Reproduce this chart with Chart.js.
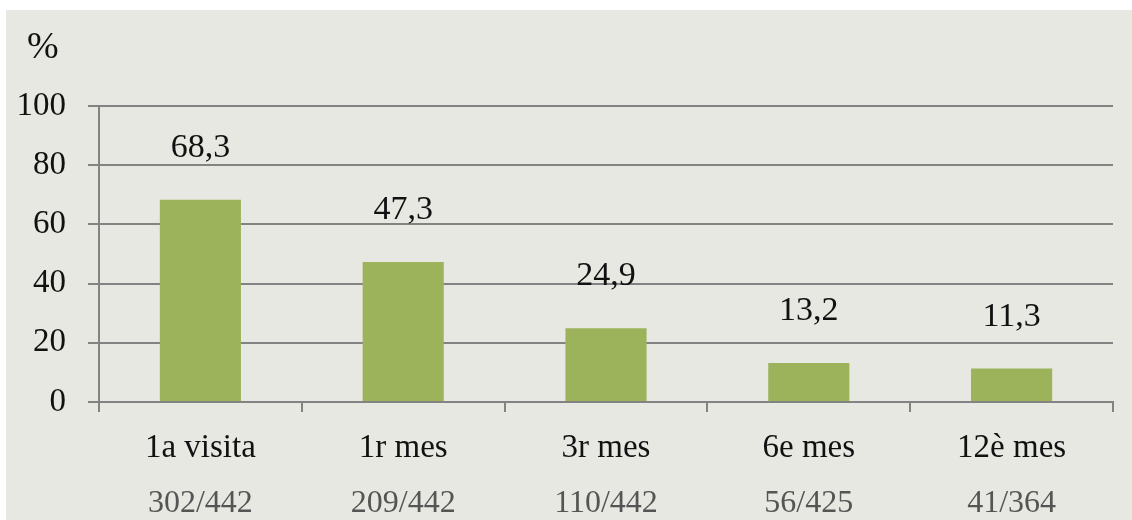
<!DOCTYPE html>
<html>
<head>
<meta charset="utf-8">
<script src="https://cdn.jsdelivr.net/npm/chart.js@4"></script>
<style>
  html, body { margin: 0; padding: 0; background: #ffffff; }
  #wrap { position: absolute; left: 6px; top: 10px; width: 1126px; height: 510px; }
</style>
</head>
<body>
<div id="wrap"><canvas id="c" width="1126" height="510"></canvas></div>
<script>
const categories = ['1a visita', '1r mes', '3r mes', '6e mes', '12è mes'];
const fractions = ['302/442', '209/442', '110/442', '56/425', '41/364'];
const values = [68.3, 47.3, 24.9, 13.2, 11.3];
const valueLabels = ['68,3', '47,3', '24,9', '13,2', '11,3'];
const yTicks = [0, 20, 40, 60, 80, 100];

const SERIF = '"Liberation Serif", "Times New Roman", serif';
const GRID = '#838383';

const bgPlugin = {
  id: 'bg',
  beforeDraw(chart) {
    const ctx = chart.ctx;
    ctx.save();
    ctx.fillStyle = '#e7e8e1';
    ctx.fillRect(0, 0, chart.width, chart.height);
    ctx.restore();
  }
};

const labelPlugin = {
  id: 'valueLabels',
  afterDatasetsDraw(chart) {
    const ctx = chart.ctx;
    const meta = chart.getDatasetMeta(0);
    ctx.save();
    ctx.font = '34px ' + SERIF;
    ctx.fillStyle = '#111111';
    ctx.textAlign = 'center';
    ctx.textBaseline = 'alphabetic';
    meta.data.forEach((bar, i) => {
      ctx.fillText(valueLabels[i], bar.x, bar.y - 43);
    });
    // unit label
    ctx.textAlign = 'left';
    ctx.font = '38px ' + SERIF;
    ctx.fillText('%', 21, 48);
    ctx.restore();
  }
};

new Chart(document.getElementById('c'), {
  type: 'bar',
  data: {
    labels: categories,
    datasets: [{
      data: values,
      backgroundColor: '#9cb35b',
      borderWidth: 0,
      categoryPercentage: 0.8,
      barPercentage: 0.5
    }]
  },
  options: {
    responsive: false,
    animation: false,
    layout: { padding: { top: 96, right: 19, bottom: 0, left: 0 } },
    plugins: { legend: { display: false }, tooltip: { enabled: false }, title: { display: false } },
    scales: {
      x: {
        position: 'bottom',
        grid: { display: true, drawOnChartArea: false, drawTicks: true, tickLength: 10, offset: true, color: GRID, lineWidth: 2 },
        border: { display: true, color: GRID, width: 2 },
        ticks: { font: { family: SERIF, size: 33 }, color: '#111111', padding: 17 },
        afterFit(s) { s.height = 62; }
      },
      x2: {
        type: 'category',
        labels: fractions,
        position: 'bottom',
        offset: true,
        grid: { display: false, drawTicks: false },
        border: { display: false },
        ticks: { font: { family: SERIF, size: 32 }, color: '#555555', padding: 20 },
        afterFit(s) { s.height = 56; }
      },
      y: {
        min: 0, max: 100,
        afterBuildTicks(s) { s.ticks = yTicks.map(v => ({ value: v })); },
        grid: { color: GRID, lineWidth: 2, drawTicks: true, tickLength: 11 },
        border: { display: true, color: GRID, width: 2 },
        ticks: { font: { family: SERIF, size: 33 }, color: '#111111', padding: 22 },
        afterFit(s) { s.width = 93; }
      }
    }
  },
  plugins: [bgPlugin, labelPlugin]
});
</script>
</body>
</html>
